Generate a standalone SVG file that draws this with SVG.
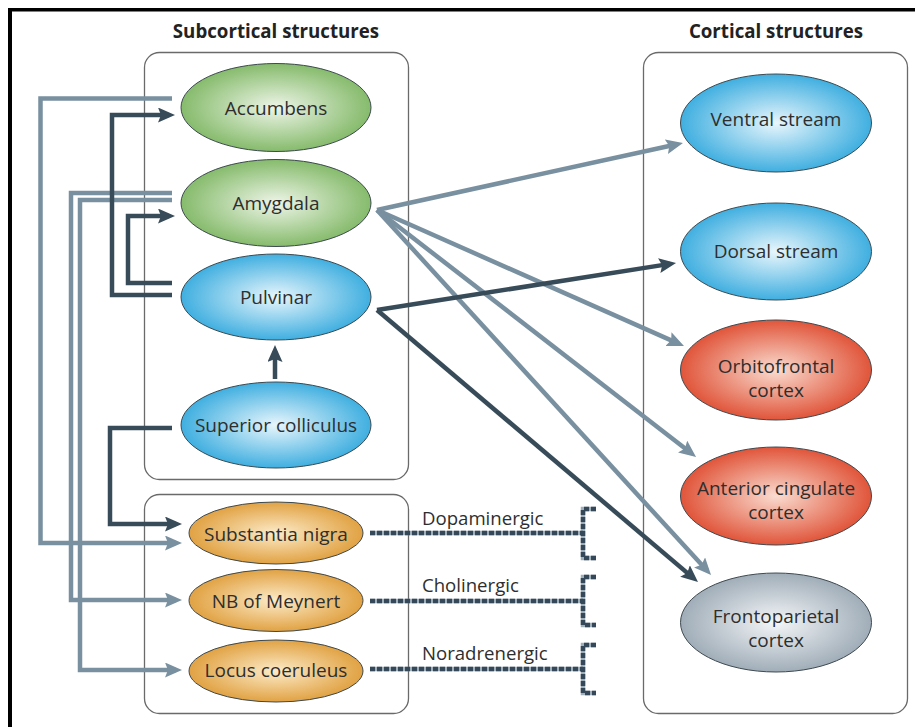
<svg xmlns="http://www.w3.org/2000/svg" width="915" height="727" viewBox="0 0 915 727">
<defs>
<radialGradient id="gGreen" cx="50%" cy="50%" r="50%"><stop offset="0%" stop-color="#eef5e8"/><stop offset="100%" stop-color="#86bb6c"/></radialGradient>
<radialGradient id="gBlue" cx="50%" cy="50%" r="50%"><stop offset="0%" stop-color="#e8f6fc"/><stop offset="100%" stop-color="#40afe0"/></radialGradient>
<radialGradient id="gRed" cx="50%" cy="50%" r="50%"><stop offset="0%" stop-color="#fadcd0"/><stop offset="100%" stop-color="#e0553a"/></radialGradient>
<radialGradient id="gOrange" cx="50%" cy="50%" r="50%"><stop offset="0%" stop-color="#fcebc8"/><stop offset="100%" stop-color="#e1a243"/></radialGradient>
<radialGradient id="gGrey" cx="50%" cy="50%" r="50%"><stop offset="0%" stop-color="#f4f6f8"/><stop offset="100%" stop-color="#a0adb8"/></radialGradient>
<marker id="arrL" markerUnits="userSpaceOnUse" markerWidth="18" markerHeight="16" refX="11" refY="7.5" orient="auto"><path d="M0,0 L17,7.5 L0,15 L3,7.5 z" fill="#7890a0"/></marker>
<marker id="arrD" markerUnits="userSpaceOnUse" markerWidth="18" markerHeight="16" refX="11" refY="7.5" orient="auto"><path d="M0,0 L17,7.5 L0,15 L3,7.5 z" fill="#374b59"/></marker>
</defs>
<style>
.box{fill:none;stroke:#6a6a6a;stroke-width:1.3}
.node{stroke:#3e4a50;stroke-width:1}
.lbl{font-family:"Open Sans","Noto Sans",sans-serif;font-size:19px;fill:#2e2e2e;text-anchor:middle}
.ttl{font-family:"Open Sans","Noto Sans",sans-serif;font-size:18.7px;font-weight:bold;fill:#222;text-anchor:middle}
.nt{font-family:"Open Sans","Noto Sans",sans-serif;font-size:18.6px;fill:#2e2e2e}
.cl{fill:none;stroke:#7890a0;stroke-width:4.5;marker-end:url(#arrL)}
.cd{fill:none;stroke:#374b59;stroke-width:4.5;marker-end:url(#arrD)}
.dsb{fill:none;stroke:#9fb0ba;stroke-width:4.5}
.dsd{fill:none;stroke:#34485a;stroke-width:4.5;stroke-dasharray:5 2}
</style>
<rect x="0" y="0" width="915" height="727" fill="#fff"/>
<rect x="8" y="8" width="907" height="3.5" fill="#000"/>
<rect x="8" y="8" width="4" height="719" fill="#000"/>

<g id="titles">
<text class="ttl" x="276" y="38">Subcortical structures</text>
<text class="ttl" x="776" y="38">Cortical structures</text>
</g>

<g id="boxes">
<rect class="box" x="144.5" y="52.5" width="264" height="427" rx="15"/>
<rect class="box" x="144.5" y="494.5" width="264" height="219" rx="15"/>
<rect class="box" x="643.5" y="52.5" width="264" height="661" rx="15" stroke-width="1.6"/>
</g>

<g id="connectors">
<path class="cl" d="M172,98.5 H40.5 V543 H176"/>
<path class="cl" d="M172,193 H71 V600 H176"/>
<path class="cl" d="M172,200 H80 V670 H176"/>
<path class="cd" d="M172,295 H112 V115 H169"/>
<path class="cd" d="M172,283 H128 V216 H169"/>
<path class="cd" d="M172,428 H110 V524 H176"/>
<path class="cd" d="M275,379 V351"/>
<path class="cl" stroke-width="4" d="M377,210 L677.1,144.3"/>
<path class="cl" stroke-width="4" d="M377,210 L678.5,343.6"/>
<path class="cl" stroke-width="4" d="M377,210 L691.3,453.3"/>
<path class="cl" stroke-width="4" d="M377,210 L707,570.6"/>
<path class="cd" stroke-width="4" d="M377,310 L670.1,263.9"/>
<path class="cd" stroke-width="4" d="M377,310 L693.4,578.1"/>
<g id="dashed">
<path class="dsb" d="M370,533 H583 M596,509 H583 V558 H596"/>
<path class="dsd" d="M370,533 H583 M596,509 H583 V558 H596"/>
<path class="dsb" d="M370,601 H583 M596,577 H583 V625 H596"/>
<path class="dsd" d="M370,601 H583 M596,577 H583 V625 H596"/>
<path class="dsb" d="M370,669 H583 M596,645 H583 V693 H596"/>
<path class="dsd" d="M370,669 H583 M596,645 H583 V693 H596"/>
</g>
</g>

<g id="accumbens"><ellipse class="node" cx="276" cy="107.5" rx="95" ry="44" fill="url(#gGreen)"/><text class="lbl" x="276" y="115">Accumbens</text></g>
<g id="amygdala"><ellipse class="node" cx="276" cy="203" rx="95" ry="43.5" fill="url(#gGreen)"/><text class="lbl" x="276" y="210">Amygdala</text></g>
<g id="pulvinar"><ellipse class="node" cx="276" cy="297" rx="95" ry="43" fill="url(#gBlue)"/><text class="lbl" x="276" y="304">Pulvinar</text></g>
<g id="superior-colliculus"><ellipse class="node" cx="276" cy="425" rx="95" ry="43" fill="url(#gBlue)"/><text class="lbl" x="276" y="432">Superior colliculus</text></g>
<g id="substantia-nigra"><ellipse class="node" cx="276" cy="533" rx="87" ry="31" fill="url(#gOrange)"/><text class="lbl" x="276" y="541">Substantia nigra</text></g>
<g id="nb-meynert"><ellipse class="node" cx="276" cy="600.5" rx="87" ry="31" fill="url(#gOrange)"/><text class="lbl" x="276" y="608">NB of Meynert</text></g>
<g id="locus-coeruleus"><ellipse class="node" cx="276" cy="671" rx="87" ry="31" fill="url(#gOrange)"/><text class="lbl" x="276" y="677">Locus coeruleus</text></g>

<g id="ventral-stream"><ellipse class="node" cx="776" cy="123" rx="95.5" ry="49" fill="url(#gBlue)"/><text class="lbl" x="776" y="126">Ventral stream</text></g>
<g id="dorsal-stream"><ellipse class="node" cx="776" cy="251.5" rx="95.5" ry="48.5" fill="url(#gBlue)"/><text class="lbl" x="776" y="258">Dorsal stream</text></g>
<g id="orbitofrontal"><ellipse class="node" cx="776" cy="370" rx="95.5" ry="50" fill="url(#gRed)"/><text class="lbl" x="776" y="373">Orbitofrontal</text><text class="lbl" x="776" y="397">cortex</text></g>
<g id="anterior-cingulate"><ellipse class="node" cx="776" cy="496" rx="95.5" ry="49" fill="url(#gRed)"/><text class="lbl" x="776" y="495">Anterior cingulate</text><text class="lbl" x="776" y="519">cortex</text></g>
<g id="frontoparietal"><ellipse class="node" cx="776" cy="622.5" rx="95.5" ry="49.5" fill="url(#gGrey)"/><text class="lbl" x="776" y="623">Frontoparietal</text><text class="lbl" x="776" y="647">cortex</text></g>

<g id="labels">
<text class="nt" x="422" y="525">Dopaminergic</text>
<text class="nt" x="422" y="592">Cholinergic</text>
<text class="nt" x="422" y="660">Noradrenergic</text>
</g>
</svg>
